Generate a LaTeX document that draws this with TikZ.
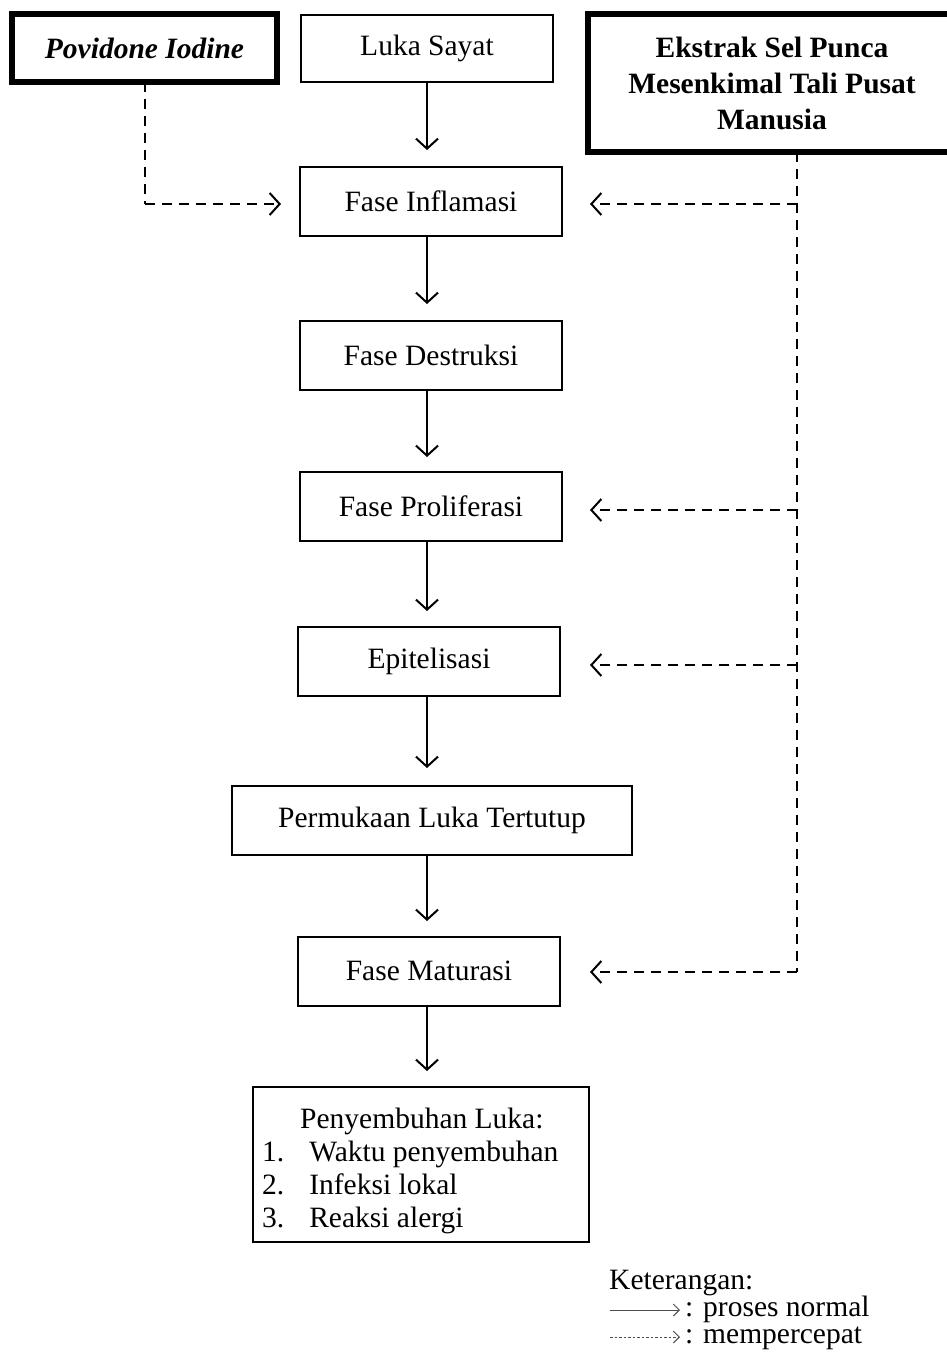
\documentclass[tikz,border=0pt]{standalone}
\usepackage{fontspec}
\setmainfont{Liberation Serif}
\usetikzlibrary{arrows.meta}
\begin{document}
\begin{tikzpicture}[x=1pt,y=-1pt,
  every node/.style={font=\fontsize{29.5}{34}\selectfont},
  box/.style={draw,line width=2pt,minimum height=69pt,inner sep=0pt},
  thickbox/.style={draw,line width=6pt,inner sep=0pt},
  flow/.style={line width=2pt,-{Straight Barb[length=10pt,width=22pt,line width=2pt]}},
  dflow/.style={line width=2pt,dash pattern=on 10pt off 7pt,-{Straight Barb[length=10pt,width=22pt,line width=2pt]}},
  dline/.style={line width=2pt,dash pattern=on 10pt off 7pt},
  legarrow/.style={gray!60!black,line width=1pt,-{Straight Barb[length=6pt,width=12pt,line width=1pt]}}]
\useasboundingbox (0,0) rectangle (946,1358);
% boxes
\node[thickbox,minimum width=265pt,minimum height=68pt] (pov) at (144.5,48) {\textbf{\textit{Povidone Iodine}}};
\node[box,minimum width=252pt,minimum height=67pt] (luka) at (427,48.5) {Luka Sayat};
\node[thickbox,minimum width=370pt,minimum height=138pt] (eks) at (773,83) {};
\node[align=center,font=\bfseries\fontsize{29.5}{36}\selectfont] (ekst) at (772,83) {Ekstrak Sel Punca\\Mesenkimal Tali Pusat\\Manusia};
\node[box,minimum width=262pt] (inf) at (431,201.5) {Fase Inflamasi};
\node[box,minimum width=262pt] (des) at (431,355) {Fase Destruksi};
\node[box,minimum width=262pt] (pro) at (431,506.5) {Fase Proliferasi};
\node[box,minimum width=262pt] (epi) at (429,661.5) {Epitelisasi};
\node[box,minimum width=400pt] (per) at (432,820) {Permukaan Luka Tertutup};
\node[box,minimum width=262pt] (mat) at (429,971) {Fase Maturasi};
\node[draw,line width=2pt,minimum width=336pt,minimum height=155pt,inner sep=0pt] (pen) at (421,1164.5) {};
\node[align=left,anchor=west,inner sep=0pt,font=\fontsize{29.5}{33}\selectfont] (pentxt) at (262,1171) {\hspace*{38pt}Penyembuhan Luka:\\1.\hspace{25pt}Waktu penyembuhan\\2.\hspace{25pt}Infeksi lokal\\3.\hspace{25pt}Reaksi alergi};
% solid arrows
\draw[flow] (427,82) -- (427,150);
\draw[flow] (427,236) -- (427,304);
\draw[flow] (427,390) -- (427,457);
\draw[flow] (427,541) -- (427,611);
\draw[flow] (427,696) -- (427,768);
\draw[flow] (427,855) -- (427,921);
\draw[flow] (427,1006) -- (427,1071);
% povidone dashed
\coordinate (pc) at (145,204);
\draw[dline] (145,82) -- (pc);
\draw[dflow] (pc) -- (281,204);
% ekstrak dashed
\coordinate (e1) at (797,204);
\coordinate (e2) at (797,510);
\coordinate (e3) at (797,665);
\coordinate (e4) at (797,972);
\draw[dline] (797,152) -- (e4);
\draw[dflow] (e1) -- (590,204);
\draw[dflow] (e2) -- (590,510);
\draw[dflow] (e3) -- (590,665);
\draw[dflow] (e4) -- (590,972);
% legend
\node[anchor=north west,inner sep=0pt,align=left,font=\fontsize{29.5}{27}\selectfont] (leg) at (609,1270) {Keterangan:\\\hspace*{76pt}: proses normal\\\hspace*{76pt}: mempercepat};
\coordinate (l1a) at (610,1310);
\coordinate (l1b) at (680,1310);
\coordinate (l2a) at (610,1337);
\coordinate (l2b) at (680,1337);
\draw[legarrow] (l1a) -- (l1b);
\draw[legarrow,dash pattern=on 2.5pt off 2pt] (l2a) -- (l2b);
\end{tikzpicture}
\end{document}
